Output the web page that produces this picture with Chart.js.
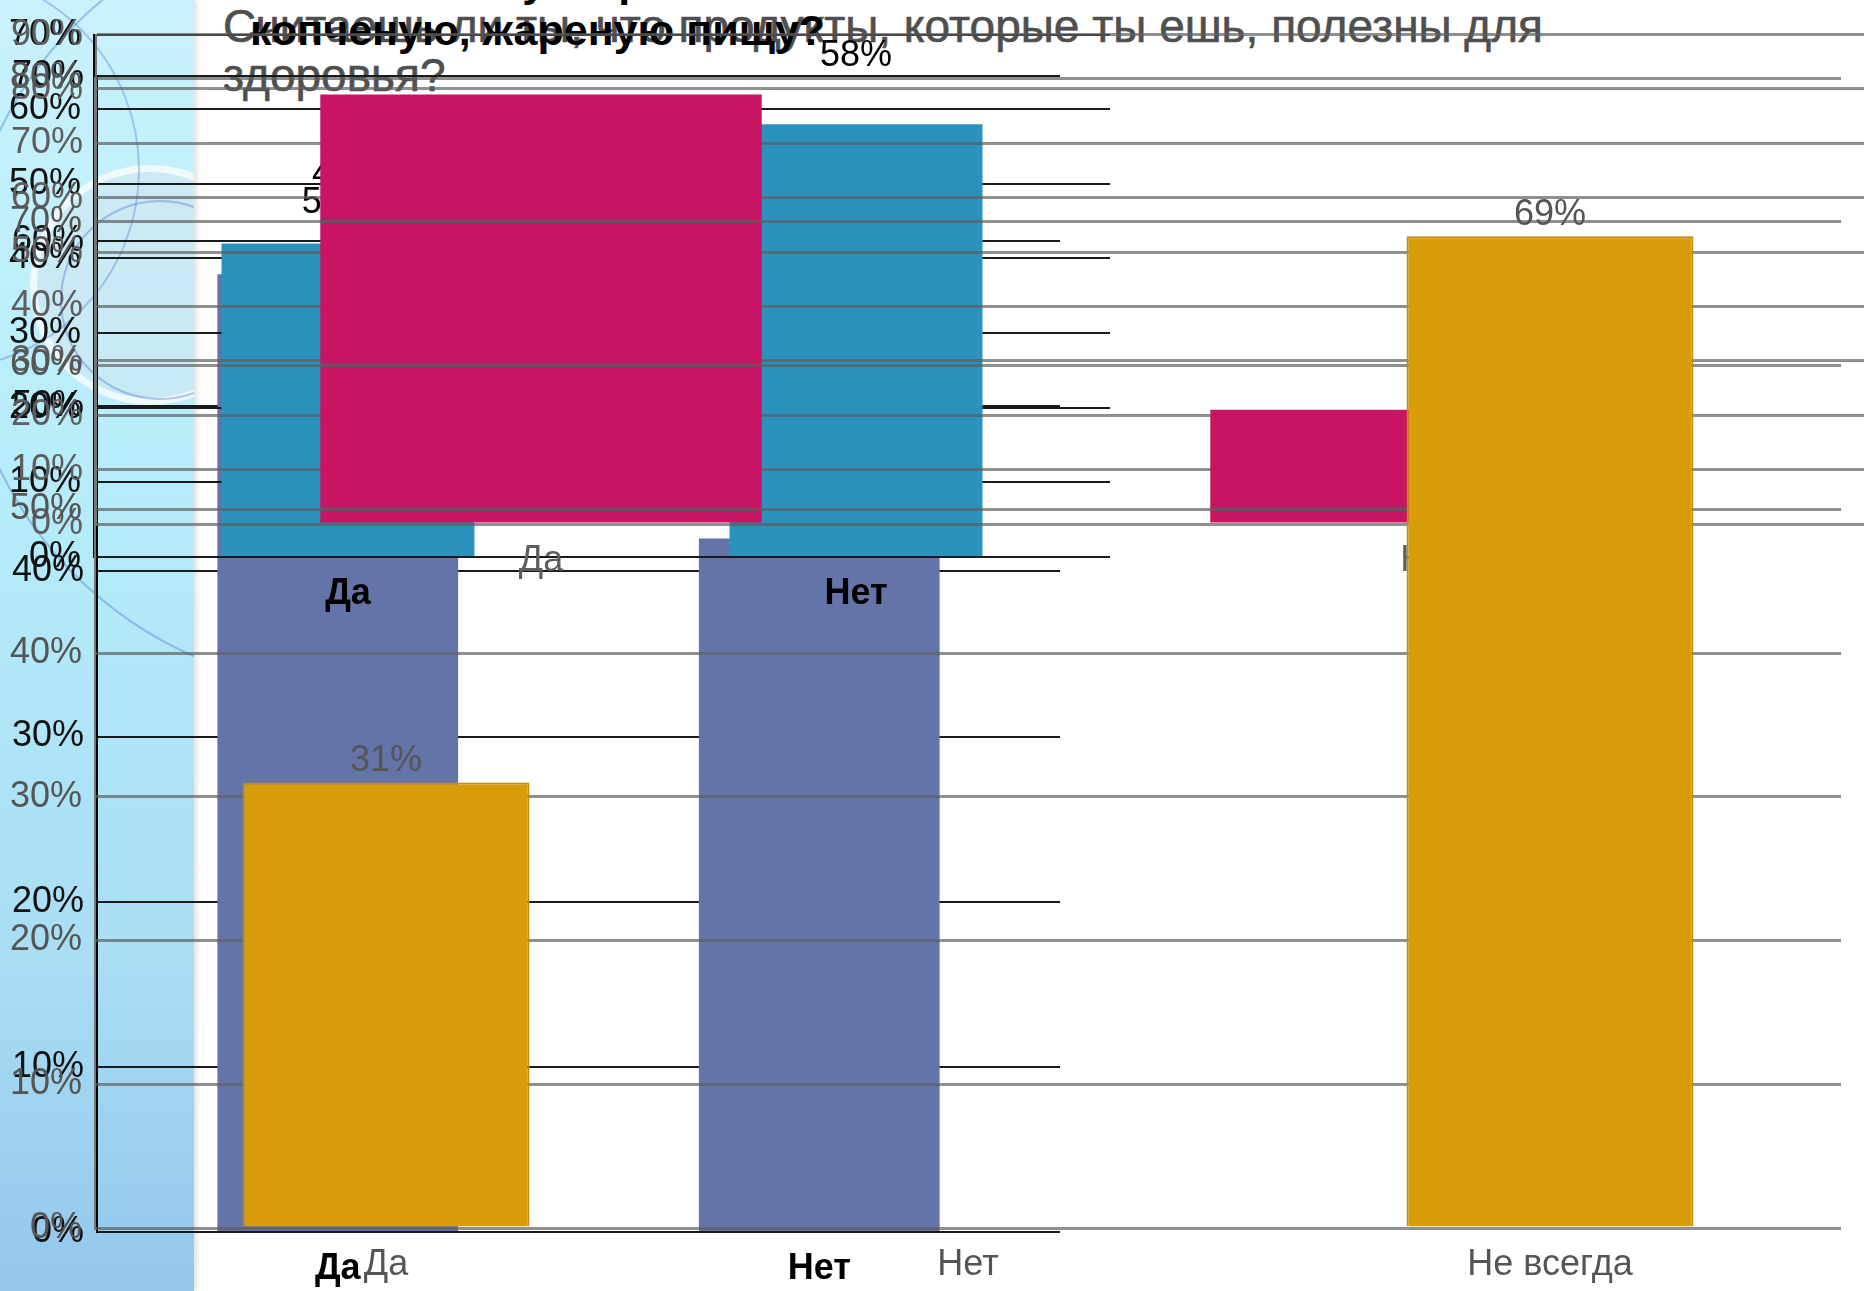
<!DOCTYPE html>
<html>
<head>
<meta charset="utf-8">
<script src="https://cdn.jsdelivr.net/npm/chart.js@4.4.1/dist/chart.umd.min.js"></script>
<style>
  html, body { margin: 0; padding: 0; width: 1864px; height: 1291px; overflow: hidden; background: #fff; }
  body { position: relative; font-family: "Liberation Sans", Arial, sans-serif; }
  #strip { position: absolute; left: 0; top: 0; width: 194px; height: 1291px; overflow: hidden;
           background: linear-gradient(#c9f2fc, #b5ecfa 40%, #a8ddf4 75%, #93c7ec);
           box-shadow: 3px 0 5px rgba(0,0,0,0.12); }
  .ring { position: absolute; border-radius: 50%; box-sizing: border-box; }
  .title { position: absolute; white-space: nowrap; line-height: 49px; }
  canvas { position: absolute; left: 0; top: 0; }
</style>
</head>
<body>
<div id="strip">
  <div class="ring" style="left:-40px;top:-90px;width:780px;height:780px;border:2px solid rgba(80,130,215,0.45)"></div>
  <div class="ring" style="left:30px;top:165px;width:240px;height:240px;border:7px solid rgba(255,255,255,0.7);background:rgba(215,228,236,0.45)"></div>
  <div class="ring" style="left:60px;top:200px;width:200px;height:200px;border:2px solid rgba(90,130,215,0.45)"></div>
  <div class="ring" style="left:-260px;top:-30px;width:400px;height:400px;border:2px solid rgba(90,130,215,0.4)"></div>
</div>

<div class="title" style="left:223px;top:2px;font-size:46px;color:#4f4f4f;-webkit-text-stroke:0.6px #4f4f4f">Считаешь ли ты, что продукты, которые ты ешь, полезны для<br>здоровья?</div>
<div class="title" style="left:250px;top:-43px;font-size:43px;font-weight:bold;color:#000">Часто ли ты употребляешь<br>копченую, жареную пищу?</div>

<canvas id="layerC" width="1864" height="1291"></canvas>
<canvas id="layerD" width="1864" height="1291"></canvas>
<canvas id="layerE" width="1900" height="1291"></canvas>
<canvas id="layerA" width="1864" height="1291"></canvas>

<script>
// слой 1 (сиреневые столбцы)
const catsC = ['Да', 'Нет'];
const valuesC = [58, 42];
// слой 2 (голубые столбцы)
const catsD = ['Да', 'Нет'];
const valuesD = [42, 58];
// слой 3 (малиновые столбцы)
const catsE = ['Да', 'Нет'];
const valuesE = [79, 21];
// слой 4 (оранжевые столбцы, верхний)
const catsA = ['Да', 'Нет', 'Не всегда'];
const valuesA = [31, 0, 69];

const FONT = '"Liberation Sans", Arial, sans-serif';

function valueLabels(opt) {
  return {
    id: 'valueLabels',
    afterDatasetsDraw(chart) {
      const ctx = chart.ctx;
      const meta = chart.getDatasetMeta(0);
      ctx.save();
      ctx.font = opt.font;
      ctx.fillStyle = opt.color;
      ctx.textAlign = 'center';
      ctx.textBaseline = 'middle';
      meta.data.forEach((bar, i) => {
        const v = chart.data.datasets[0].data[i];
        if (!v) return;
        ctx.fillText(v + '%', bar.x, bar.y - opt.offset);
      });
      ctx.restore();
    }
  };
}

function buildLayer(id, o) {
  const canvas = document.getElementById(id);
  const W = canvas.width, H = canvas.height, xh = 60;
  return new Chart(canvas, {
    type: 'bar',
    data: {
      labels: o.labels,
      datasets: [{
        data: o.values,
        backgroundColor: o.color,
        borderColor: o.border || o.color,
        borderWidth: o.borderWidth || 0,
        barPercentage: o.barPct,
        categoryPercentage: 1
      }]
    },
    options: {
      responsive: false,
      animation: false,
      devicePixelRatio: 1,
      layout: { padding: { left: 0, top: o.top, right: W - o.right, bottom: H - o.bottom - xh } },
      plugins: { legend: { display: false }, tooltip: { enabled: false } },
      scales: {
        y: {
          min: 0,
          max: o.max,
          afterFit: s => { s.width = o.left; },
          ticks: { stepSize: 10, padding: 13, color: o.tickColor, font: { family: FONT, size: 36 },
                   callback: v => v + '%' },
          grid: { color: o.gridColor, lineWidth: o.gridWidth, drawTicks: false, tickLength: 0 },
          border: { display: true, color: o.axisColor, width: 2 }
        },
        x: {
          afterFit: s => { s.height = xh; },
          ticks: { padding: 15, color: o.catColor, font: { family: FONT, size: 36, weight: o.catWeight } },
          grid: { display: false, drawTicks: false, tickLength: 0 },
          border: { display: false }
        }
      }
    },
    plugins: o.valueLabel ? [valueLabels(o.valueLabel)] : []
  });
}

buildLayer('layerC', {
  labels: catsC, values: valuesC, color: '#6474a8', barPct: 0.5,
  left: 97, right: 1060, top: 76, bottom: 1232, max: 70,
  tickColor: '#111', gridColor: '#1a1a1a', gridWidth: 2, axisColor: '#000',
  catColor: '#000', catWeight: 'bold',
  valueLabel: { offset: 71, color: '#000', font: '36px ' + FONT }
});

buildLayer('layerD', {
  labels: catsD, values: valuesD, color: '#2b92bd', barPct: 0.498,
  left: 94, right: 1110, top: 32, bottom: 557, max: 70,
  tickColor: '#111', gridColor: '#1a1a1a', gridWidth: 2, axisColor: '#000',
  catColor: '#000', catWeight: 'bold',
  valueLabel: { offset: 68, color: '#000', font: '36px ' + FONT }
});

buildLayer('layerE', {
  labels: catsE, values: valuesE, color: '#c81463', barPct: 0.496,
  left: 96, right: 1876, top: 26, bottom: 524, max: 90,
  tickColor: '#5e5e5e', gridColor: 'rgba(95,95,95,0.7)', gridWidth: 3, axisColor: '#777',
  catColor: '#5e5e5e', catWeight: 'normal'
});

buildLayer('layerA', {
  labels: catsA, values: valuesA, color: '#d99c0b', border: '#c28a14', borderWidth: 2, barPct: 0.493,
  left: 95, right: 1841, top: 78, bottom: 1228, max: 80,
  tickColor: '#555', gridColor: 'rgba(95,95,95,0.7)', gridWidth: 3, axisColor: '#777',
  catColor: '#555', catWeight: 'normal',
  valueLabel: { offset: 21, color: '#555', font: '36px ' + FONT }
});
</script>
</body>
</html>
